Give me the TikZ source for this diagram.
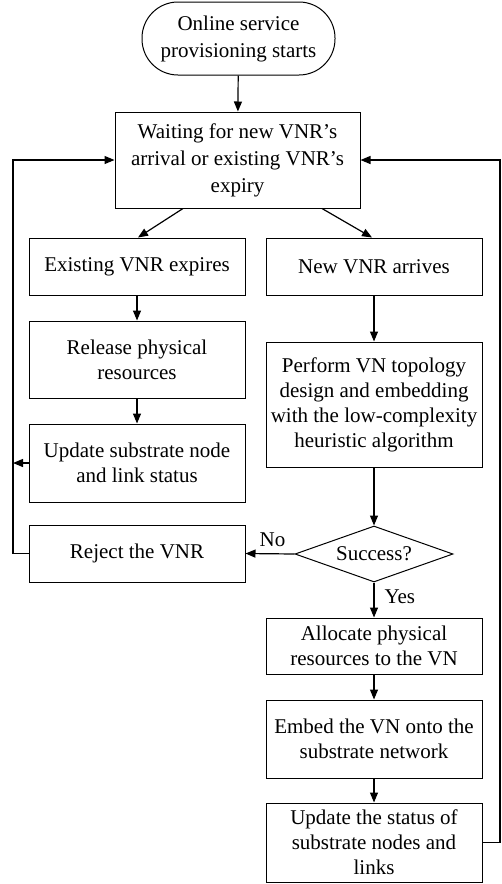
\documentclass[tikz,border=0pt]{standalone}
\usepackage{fontspec}
\setmainfont{Liberation Serif}
\usetikzlibrary{shapes.geometric,arrows.meta,calc}

\tikzset{
  box/.style={draw, line width=1pt, minimum width=216pt, align=center, inner sep=2pt,
    font=\fontsize{21}{25}\selectfont},
  term/.style={box, rounded corners=36pt, minimum width=193pt, minimum height=73pt,
    font=\fontsize{21}{27}\selectfont},
  decision/.style={draw, line width=1pt, diamond, aspect=2.8, inner sep=0pt,
    minimum width=158pt, minimum height=56pt, font=\fontsize{21}{25}\selectfont},
  flow/.style={line width=1.2pt, -{Triangle[length=10pt,width=8pt]}},
  lbl/.style={font=\fontsize{21}{25}\selectfont, inner sep=0pt}
}

\begin{document}
\begin{tikzpicture}[x=1pt, y=-1pt]
  \useasboundingbox (0,0) rectangle (501,884);

  % main flow nodes
  \node[term] (start) at (238.5,38.5) {Online service\\provisioning starts};
  \node[box, minimum width=245pt, minimum height=96pt, font=\fontsize{21}{27}\selectfont]
    (wait) at (237.5,160)
    {Waiting for new VNR’s\\arrival or existing VNR’s\\expiry};

  % expiry branch
  \node[box, minimum height=57pt] (exp) at (137,266.5) {Existing VNR expires};
  \node[box, minimum height=77pt] (rel) at (137,359.5) {Release physical\\resources};
  \node[box, minimum height=78pt] (upd) at (137,463) {Update substrate node\\and link status};
  \node[box, minimum height=57pt] (rej) at (137,553.5) {Reject the VNR};

  % arrival branch
  \node[box, minimum height=57pt] (new) at (374,266.5) {New VNR arrives};
  \node[box, minimum height=125pt] (perf) at (374,404.5)
    {Perform VN topology\\design and embedding\\with the low-complexity\\heuristic algorithm};
  \node[decision] (dec) at (374,554) {Success?};
  \node[box, minimum height=56pt] (alloc) at (374,646) {Allocate physical\\resources to the VN};
  \node[box, minimum height=78pt] (emb) at (374,739) {Embed the VN onto the\\substrate network};
  \node[box, minimum height=79pt] (ust) at (374,842.5) {Update the status of\\substrate nodes and\\links};

  % loop-back rails
  \coordinate (lrail) at (13,463);
  \coordinate (lbot) at (13,553.5);
  \coordinate (ltop) at (13,160);
  \coordinate (rbot) at (500,842.5);
  \coordinate (rtop) at (500,160);

  % connectors
  \draw[flow] (start) -- (wait);
  \draw[flow] ($(wait.south)+(-54.5,0)$) -- ($(exp.north)+(1,0)$);
  \draw[flow] ($(wait.south)+(84.5,0)$) -- ($(new.north)+(-2,0)$);
  \draw[flow] (exp) -- (rel);
  \draw[flow] (rel) -- (upd);
  \draw[flow] (upd.west) -- (lrail);
  \draw[flow] (new) -- (perf);
  \draw[flow] (perf) -- (dec);
  \draw[flow] (dec.west) -- node[lbl, above=6pt, pos=0.45] (no) {No} (rej.east);
  \draw[flow] (dec.south) -- node[lbl, right=10pt, pos=0.4] (yes) {Yes} (alloc.north);
  \draw[flow] (alloc) -- (emb);
  \draw[flow] (emb) -- (ust);
  \draw[flow] (rej.west) -- (lbot) -- (ltop) -- (wait.west);
  \draw[flow] (ust.east) -- (rbot) -- (rtop) -- (wait.east);
\end{tikzpicture}
\end{document}
